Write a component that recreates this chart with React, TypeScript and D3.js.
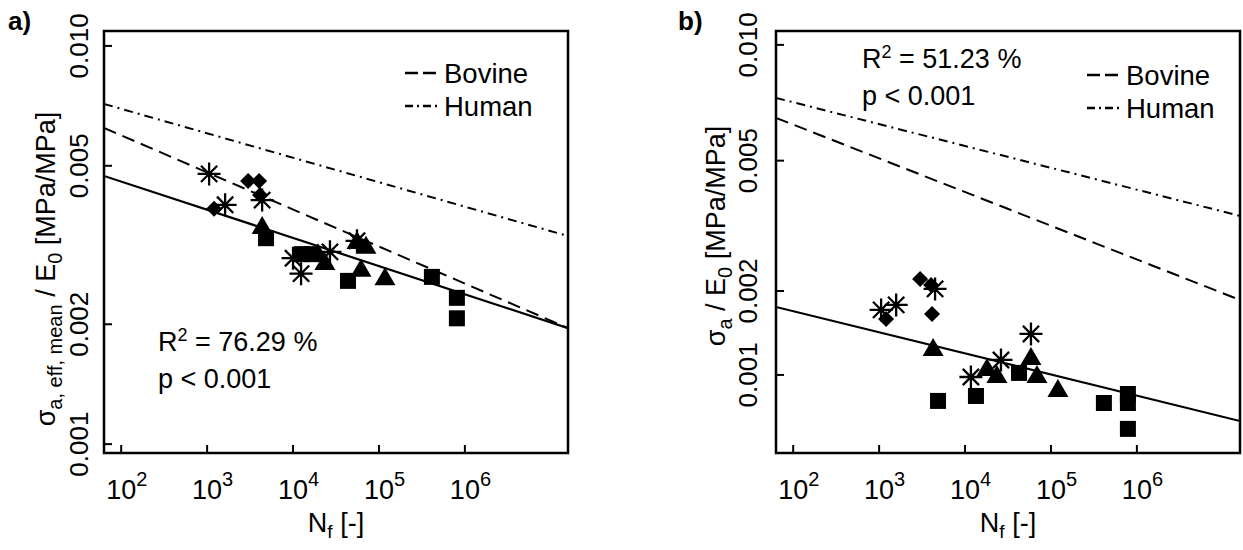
import React from "react";
import * as d3 from "d3";

// ---------- shared axis data ----------
const xDomain: [number, number] = [10 ** 1.8, 10 ** 7.2];
const xTickExps = [2, 3, 4, 5, 6];
const yTickValues = [0.001, 0.002, 0.005, 0.01];
const yTickLabels = ["0.001", "0.002", "0.005", "0.010"];

// ---------- panel a (sigma_a,eff,mean / E0) ----------
const aSquares: [number, number][] = [
  [4850, 0.00329], [12700, 0.003], [16600, 0.003], [43600, 0.00257],
  [413000, 0.00263], [807000, 0.00233], [807000, 0.00207],
];
const aTriangles: [number, number][] = [
  [4370, 0.00351], [19500, 0.003], [23500, 0.00285], [55500, 0.00322],
  [70600, 0.00313], [61800, 0.00274], [117500, 0.00261],
];
const aDiamonds: [number, number][] = [
  [1205, 0.0039], [3000, 0.00458], [4030, 0.00458], [4130, 0.00422],
];
const aAsterisks: [number, number][] = [
  [1055, 0.00477], [1620, 0.00399], [4370, 0.0041], [10000, 0.00293],
  [12400, 0.00268], [26900, 0.00304], [55500, 0.00324],
];
const aFit = [0.004715, 0.001956];
const aBovine = [0.006223, 0.001956];
const aHuman = [0.00715, 0.003331];

// ---------- panel b (sigma_a / E0) ----------
const bSquares: [number, number][] = [
  [4850, 0.00079], [13400, 0.000827], [42500, 0.001018], [413000, 0.000775],
  [786000, 0.000842], [786000, 0.000775], [786000, 0.000605],
];
const bTriangles: [number, number][] = [
  [4250, 0.001253], [18000, 0.001054], [23500, 0.000991], [58500, 0.00116],
  [68700, 0.000991], [120500, 0.000874],
];
const bDiamonds: [number, number][] = [
  [1205, 0.001605], [3000, 0.002194], [4030, 0.002096], [4130, 0.001671],
];
const bAsterisks: [number, number][] = [
  [1055, 0.001725], [1580, 0.001795], [4480, 0.002033], [11700, 0.000982],
  [26200, 0.00114], [58500, 0.00142],
];
const bFit = [0.001766, 0.000653];
const bBovine = [0.006533, 0.001866];
const bHuman = [0.007367, 0.00346];

const FONT = "'Liberation Sans', Arial, sans-serif";

type Scale = (v: number) => number;

function Markers({ x, y, squares, triangles, diamonds, asterisks }: any) {
  return (
    <g fill="#000">
      {squares.map(([n, s]: number[], i: number) => (
        <rect key={"s" + i} x={x(n) - 8} y={y(s) - 8} width={16} height={16} />
      ))}
      {triangles.map(([n, s]: number[], i: number) => {
        const cx = x(n), cy = y(s);
        return <path key={"t" + i} d={`M${cx},${cy - 11}L${cx + 10.5},${cy + 7}L${cx - 10.5},${cy + 7}Z`} />;
      })}
      {diamonds.map(([n, s]: number[], i: number) => {
        const cx = x(n), cy = y(s);
        return <path key={"d" + i} d={`M${cx},${cy - 8}L${cx + 8},${cy}L${cx},${cy + 8}L${cx - 8},${cy}Z`} />;
      })}
      {asterisks.map(([n, s]: number[], i: number) => {
        const cx = x(n), cy = y(s);
        const r = 11.5, q = r * Math.SQRT1_2;
        return (
          <path key={"a" + i} stroke="#000" strokeWidth={2.3} fill="none"
            d={`M${cx - r},${cy}L${cx + r},${cy}M${cx},${cy - r}L${cx},${cy + r}M${cx - q},${cy - q}L${cx + q},${cy + q}M${cx - q},${cy + q}L${cx + q},${cy - q}`} />
        );
      })}
    </g>
  );
}

function Panel(props: any) {
  const { left, right, top, bottom, yScale, fit, bovine, human, data, tickLabelX, titleX, titleY, title, letter, letterX, legendX, legendY, r2, r2X, r2Y } = props;
  const x = d3.scaleLog().domain(xDomain).range([left, right]);
  const y: Scale = yScale;
  const line = d3.line<[number, number]>().x((d) => x(d[0])).y((d) => y(d[1]));
  const seg = (v: number[]) => line([[xDomain[0], v[0]], [xDomain[1], v[1]]]) as string;
  const cx = (left + right) / 2;
  return (
    <g fontFamily={FONT}>
      <defs>
        <clipPath id={"clip" + letter}>
          <rect x={left} y={top} width={right - left} height={bottom - top} />
        </clipPath>
      </defs>
      <g clipPath={`url(#clip${letter})`} fill="none" stroke="#000">
        <path d={seg(human)} strokeWidth={2} strokeDasharray="9 5 2 5" />
        <path d={seg(bovine)} strokeWidth={2} strokeDasharray="13 7" />
        <path d={seg(fit)} strokeWidth={2.2} />
      </g>
      <Markers x={x} y={y} {...data} />
      <rect x={left} y={top} width={right - left} height={bottom - top} fill="none" stroke="#000" strokeWidth={2.5} />
      {/* x ticks */}
      {xTickExps.map((e) => {
        const px = x(10 ** e);
        return (
          <g key={e}>
            <line x1={px} x2={px} y1={bottom} y2={bottom - 8} stroke="#000" strokeWidth={2} />
            <text x={px} y={499} fontSize={27} textAnchor="middle">10</text>
            <text x={px + 15} y={486} fontSize={20}>{e}</text>
          </g>
        );
      })}
      <text x={cx} y={532} fontSize={27} textAnchor="middle">
        N<tspan fontSize={19} dy={6}>f</tspan><tspan dy={-6}> [-]</tspan>
      </text>
      {/* y ticks */}
      {yTickValues.map((v, i) => {
        const py = y(v);
        return (
          <g key={v}>
            <line x1={left} x2={left + 8} y1={py} y2={py} stroke="#000" strokeWidth={2} />
            <text transform={`translate(${tickLabelX},${py}) rotate(-90)`} fontSize={26} textAnchor="middle">{yTickLabels[i]}</text>
          </g>
        );
      })}
      <text transform={`translate(${titleX},${titleY}) rotate(-90)`} fontSize={27} textAnchor="middle">
        {title}
      </text>
      <text x={letterX} y={30} fontSize={26} fontWeight="bold">{letter})</text>
      {/* legend */}
      <line x1={legendX} x2={legendX + 31} y1={legendY} y2={legendY} stroke="#000" strokeWidth={2.5} strokeDasharray="13 5" />
      <text x={legendX + 39} y={legendY + 10} fontSize={27.5}>Bovine</text>
      <line x1={legendX} x2={legendX + 32} y1={legendY + 33} y2={legendY + 33} stroke="#000" strokeWidth={2.5} strokeDasharray="8 4 2 4" />
      <text x={legendX + 39} y={legendY + 43} fontSize={27.5}>Human</text>
      {/* stats */}
      <text x={r2X} y={r2Y} fontSize={27}>
        R<tspan fontSize={18} dy={-10}>2</tspan><tspan dy={10}> = {r2} %</tspan>
      </text>
      <text x={r2X} y={r2Y + 37} fontSize={27}>p &lt; 0.001</text>
    </g>
  );
}

export default function App() {
  const yA = d3.scaleLog().domain([0.00095, 0.0109]).range([453, 31]);
  const yB = d3.scalePow().exponent(0.2).domain([0.000475, 0.0108]).range([453, 31]);
  const titleA = (
    <>
      σ<tspan fontSize={20} dy={7}>a, eff, mean</tspan><tspan dy={-7}> / E</tspan>
      <tspan fontSize={20} dy={7}>0</tspan><tspan dy={-7}> [MPa/MPa]</tspan>
    </>
  );
  const titleB = (
    <>
      σ<tspan fontSize={20} dy={7}>a</tspan><tspan dy={-7}> / E</tspan>
      <tspan fontSize={20} dy={7}>0</tspan><tspan dy={-7}> [MPa/MPa]</tspan>
    </>
  );
  return (
    <svg width={1243} height={550} style={{ position: "fixed", left: 0, top: 0, background: "#fff" }}>
      <rect width={1243} height={550} fill="#fff" />
      <Panel left={104} right={568} top={31} bottom={453} yScale={yA}
        fit={aFit} bovine={aBovine} human={aHuman}
        data={{ squares: aSquares, triangles: aTriangles, diamonds: aDiamonds, asterisks: aAsterisks }}
        tickLabelX={88} titleX={55} titleY={269} title={titleA}
        letter="a" letterX={8} legendX={405} legendY={73}
        r2="76.29" r2X={158} r2Y={351} />
      <Panel left={776} right={1240} top={31} bottom={453} yScale={yB}
        fit={bFit} bovine={bBovine} human={bHuman}
        data={{ squares: bSquares, triangles: bTriangles, diamonds: bDiamonds, asterisks: bAsterisks }}
        tickLabelX={757} titleX={725} titleY={236} title={titleB}
        letter="b" letterX={678} legendX={1087} legendY={75}
        r2="51.23" r2X={862} r2Y={68} />
    </svg>
  );
}
